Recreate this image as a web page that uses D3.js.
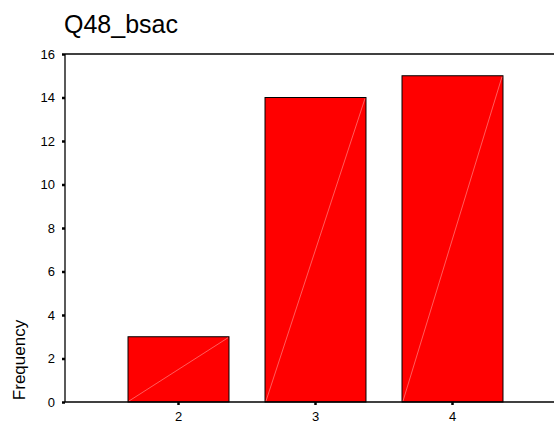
<!DOCTYPE html>
<html>
<head>
<meta charset="utf-8">
<script src="https://cdn.jsdelivr.net/npm/d3@7"></script>
<style>
  body { margin: 0; background: #fff; }
  svg { display: block; font-family: "Liberation Sans", Arial, sans-serif; }
</style>
</head>
<body>
<svg id="chart" width="554" height="421"></svg>
<script>
// values
var categories = ['2', '3', '4'];
var counts = [3, 14, 15];
var yTicks = [0, 2, 4, 6, 8, 10, 12, 14, 16];
var title = 'Q48_bsac';
var yLabel = 'Frequency';

var svg = d3.select('#chart');
var width = 554;
var plotLeft = 65, plotTop = 54, plotBottom = 402;

var x = d3.scaleBand()
    .domain(categories)
    .range([110, 521])
    .paddingInner(0.263)
    .paddingOuter(0.263 / 2);

var y = d3.scaleLinear()
    .domain([0, 16])
    .range([plotBottom, plotTop]);

var data = categories.map(function (c, i) { return {cat: c, n: counts[i]}; });

svg.append('text')
    .attr('x', 64)
    .attr('y', 33)
    .style('font-size', '25px')
    .attr('fill', '#000')
    .text(title);

// bars
var bars = svg.append('g');
bars.selectAll('rect')
    .data(data)
    .enter()
    .append('rect')
    .attr('x', d => x(d.cat))
    .attr('y', d => y(d.n))
    .attr('width', x.bandwidth())
    .attr('height', d => y(0) - y(d.n))
    .attr('fill', '#ff0000')
    .attr('stroke', '#000')
    .attr('stroke-width', 1);

bars.selectAll('line.diag')
    .data(data)
    .enter()
    .append('line')
    .attr('class', 'diag')
    .attr('x1', d => x(d.cat) + 1)
    .attr('y1', y(0) - 1)
    .attr('x2', d => x(d.cat) + x.bandwidth() - 1)
    .attr('y2', d => y(d.n) + 1)
    .attr('stroke', '#ff9a9a')
    .attr('stroke-width', 0.6);

// frame
svg.append('line')
    .attr('x1', plotLeft).attr('y1', plotTop)
    .attr('x2', width).attr('y2', plotTop)
    .attr('stroke', '#000').attr('stroke-width', 1.3);
svg.append('line')
    .attr('x1', plotLeft).attr('y1', plotTop)
    .attr('x2', plotLeft).attr('y2', plotBottom)
    .attr('stroke', '#000').attr('stroke-width', 1.3);
svg.append('line')
    .attr('x1', plotLeft).attr('y1', plotBottom)
    .attr('x2', width).attr('y2', plotBottom)
    .attr('stroke', '#000').attr('stroke-width', 1.3);

// y axis ticks and labels
var yAxis = d3.axisLeft(y)
    .tickValues(yTicks)
    .tickSize(3)
    .tickPadding(7);
var gY = svg.append('g')
    .attr('transform', 'translate(' + plotLeft + ',0)')
    .call(yAxis);
gY.select('.domain').remove();
gY.selectAll('.tick line').attr('stroke', '#000').attr('stroke-width', 2.5);
gY.selectAll('.tick text')
    .style('font-size', '13px')
    .style('font-family', '"Liberation Sans", Arial, sans-serif')
    .attr('fill', '#000');

// x axis ticks and labels
var xAxis = d3.axisBottom(x)
    .tickSize(3)
    .tickPadding(7);
var gX = svg.append('g')
    .attr('transform', 'translate(0,' + plotBottom + ')')
    .call(xAxis);
gX.select('.domain').remove();
gX.selectAll('.tick line').attr('stroke', '#000').attr('stroke-width', 2.5);
gX.selectAll('.tick text')
    .style('font-size', '13px')
    .style('font-family', '"Liberation Sans", Arial, sans-serif')
    .attr('fill', '#000');

svg.append('text')
    .attr('transform', 'translate(25,360) rotate(-90)')
    .attr('text-anchor', 'middle')
    .style('font-size', '17px')
    .attr('fill', '#000')
    .text(yLabel);
</script>
</body>
</html>
